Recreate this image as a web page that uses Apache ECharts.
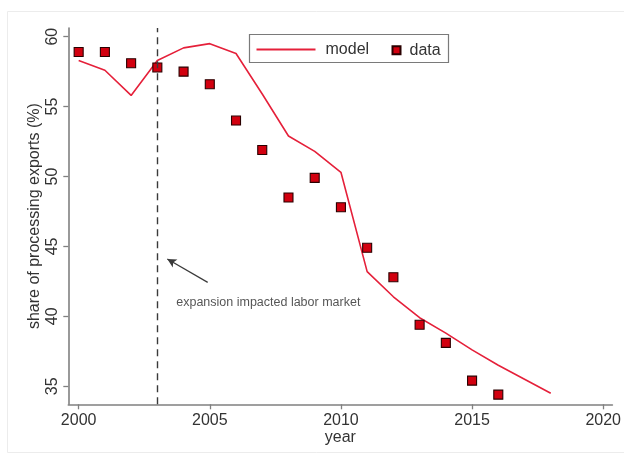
<!DOCTYPE html>
<html>
<head>
<meta charset="utf-8">
<script src="https://cdn.jsdelivr.net/npm/echarts@6/dist/echarts.min.js"></script>
<style>
  html, body { margin: 0; padding: 0; background: #fff; }
  #chart { width: 624px; height: 457px; }
</style>
</head>
<body>
<div id="chart"></div>
<script>
// Observed share of processing exports by year
const dataYears = [2000, 2001, 2002, 2003, 2004, 2005, 2006, 2007, 2008, 2009, 2010, 2011, 2012, 2013, 2014, 2015, 2016];
const dataShare = [58.9, 58.9, 58.1, 57.8, 57.5, 56.6, 54.0, 51.9, 48.5, 49.9, 47.8, 44.9, 42.8, 39.4, 38.1, 35.4, 34.4];

// Model-implied share
const modelYears = [2000, 2001, 2002, 2003, 2004, 2005, 2006, 2007, 2008, 2009, 2010, 2011, 2012, 2013, 2014, 2015, 2016, 2017, 2018];
const modelShare = [58.3, 57.6, 55.8, 58.3, 59.2, 59.5, 58.8, 55.9, 52.9, 51.8, 50.3, 43.2, 41.4, 39.9, 38.8, 37.6, 36.5, 35.5, 34.5];

// Tick labels
const xTicks = [2000, 2005, 2010, 2015, 2020];
const yTicks = [35, 40, 45, 50, 55, 60];

// Policy year and its note
const policyYear = 2003;
const noteText = 'expansion impacted labor market';
const noteAt = [2003.72, 40.98];
const arrowFrom = [2004.92, 42.43];
const arrowTo = [2003.38, 44.1];

const FONT = '"Liberation Sans", Arial, sans-serif';
const TXT = '#333333';
const AXIS = '#808080';
const LINE_RED = '#e5203a';

const chart = echarts.init(document.getElementById('chart'), null, { renderer: 'canvas' });

chart.setOption({
  animation: false,
  backgroundColor: '#ffffff',
  textStyle: { fontFamily: FONT, color: TXT },
  graphic: [
    {
      type: 'rect', silent: true, z: -10,
      shape: { x: 7.5, y: 11.5, width: 640, height: 441 },
      style: { fill: 'none', stroke: '#ececec', lineWidth: 1 }
    },
    {
      type: 'rect', silent: true, z: 5,
      shape: { x: 249.5, y: 34.5, width: 199, height: 28 },
      style: { fill: '#ffffff', stroke: '#7a7a7a', lineWidth: 1.2 }
    }
  ],
  grid: { left: 68.3, right: 9, top: 28, bottom: 52.7, containLabel: false },
  legend: [
    {
      data: [{ name: 'model', icon: 'rect', itemStyle: { color: LINE_RED } }],
      left: 256.5, top: 41.5, z: 10,
      itemWidth: 59, itemHeight: 1.8, padding: 0,
      textStyle: { fontFamily: FONT, fontSize: 16, color: TXT, padding: [0, 0, 0, 5] },
      selectedMode: false
    },
    {
      data: ['data'], left: 391.5, top: 42.3, z: 10,
      itemWidth: 8, itemHeight: 8, padding: 0,
      textStyle: { fontFamily: FONT, fontSize: 16, color: TXT, padding: [0, 0, 0, 4] },
      selectedMode: false
    }
  ],
  xAxis: {
    type: 'value', min: 1999.605, max: 2020.35,
    name: 'year', nameLocation: 'middle', nameGap: 25.5, nameMoveOverlap: false,
    nameTextStyle: { fontFamily: FONT, fontSize: 16, color: TXT },
    axisLine: { show: true, lineStyle: { color: AXIS, width: 1.6 } },
    axisTick: { show: true, length: 5, customValues: xTicks, lineStyle: { color: AXIS, width: 1.3 } },
    axisLabel: { customValues: xTicks, margin: 8, fontFamily: FONT, fontSize: 16, color: TXT, formatter: v => String(v) },
    splitLine: { show: false }
  },
  yAxis: {
    type: 'value', min: 33.71, max: 60.62,
    name: 'share of processing exports (%)', nameLocation: 'middle', nameGap: 26, nameRotate: 90, nameMoveOverlap: false,
    nameTextStyle: { fontFamily: FONT, fontSize: 16, color: TXT },
    axisLine: { show: true, lineStyle: { color: AXIS, width: 1.6 } },
    axisTick: { show: true, length: 5, customValues: yTicks, lineStyle: { color: AXIS, width: 1.3 } },
    axisLabel: { customValues: yTicks, rotate: 90, margin: 8, fontFamily: FONT, fontSize: 16, color: TXT, formatter: v => String(v) },
    splitLine: { show: false }
  },
  series: [
    {
      name: 'model', type: 'line', z: 3,
      data: modelYears.map((y, i) => [y, modelShare[i]]),
      symbol: 'none', showSymbol: false,
      lineStyle: { color: LINE_RED, width: 1.6 },
      itemStyle: { color: LINE_RED },
      markLine: {
        silent: true, symbol: ['none', 'none'], label: { show: false },
        lineStyle: { color: '#3a3a3a', type: [7, 5], width: 1.4 },
        data: [{ xAxis: policyYear }]
      }
    },
    {
      name: 'data', type: 'scatter', z: 4,
      data: dataYears.map((y, i) => [y, dataShare[i]]),
      symbol: 'rect', symbolSize: 9,
      itemStyle: { color: '#d2000f', borderColor: '#2a0000', borderWidth: 1.1, opacity: 1 }
    },
    {
      name: 'note', type: 'scatter', z: 4, silent: true,
      data: [noteAt], symbolSize: 0,
      label: {
        show: true, position: 'right', distance: 0, formatter: noteText,
        fontFamily: FONT, fontSize: 12.5, color: '#2a2a2a'
      },
      markLine: {
        silent: true, symbol: ['none', 'arrow'], symbolSize: [7, 9],
        label: { show: false },
        lineStyle: { color: '#3a3a3a', type: 'solid', width: 1.2 },
        data: [[{ coord: arrowFrom }, { coord: arrowTo }]]
      }
    }
  ]
});
</script>
</body>
</html>
